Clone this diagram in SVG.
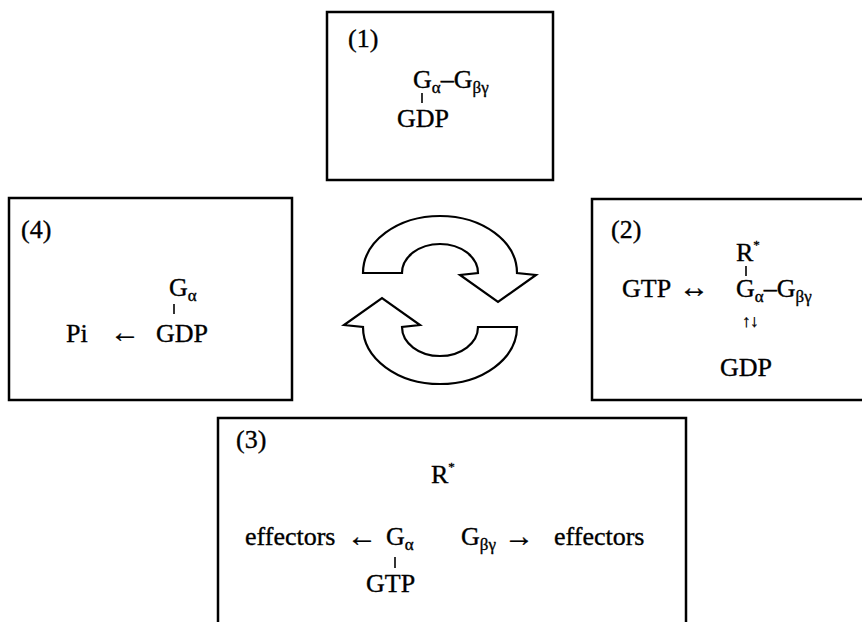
<svg xmlns="http://www.w3.org/2000/svg" width="862" height="622" viewBox="0 0 862 622">
<style>
.box{fill:none;stroke:#000;stroke-width:2.5}
text{font-family:"Liberation Serif","Times New Roman","DejaVu Serif",serif;font-size:26px;fill:#000;stroke:#000;stroke-width:0.35}
.sub{font-size:17px}
.sm{font-size:13px}
.ar{font-size:30px}
.ud{font-size:17px}
.tick{stroke:#000;stroke-width:1.6}
.cyc{fill:#fff;stroke:#000;stroke-width:2.2;stroke-linejoin:miter}
</style>
<rect width="862" height="622" fill="#fff"/>
<g id="box1" font-family="Liberation Serif, serif">
<rect class="box" x="327" y="12" width="226" height="168"/>
<text x="348" y="47">(1)</text>
<text x="413" y="88">G<tspan class="sub" dy="5">α</tspan><tspan dy="-5">–G</tspan><tspan class="sub" dy="5">βγ</tspan></text>
<line class="tick" x1="422" y1="93" x2="422" y2="103"/>
<text x="397" y="127">GDP</text>
</g>
<g id="box2" font-family="Liberation Serif, serif">
<rect class="box" x="592" y="199" width="272" height="201"/>
<text x="611" y="238">(2)</text>
<text x="736" y="261">R<tspan class="sm" dy="-12">*</tspan></text>
<line class="tick" x1="746" y1="266" x2="746" y2="276"/>
<text x="622" y="297">GTP</text>
<text x="679" y="297" class="ar">↔</text>
<text x="736" y="297">G<tspan class="sub" dy="5">α</tspan><tspan dy="-5">–G</tspan><tspan class="sub" dy="5">βγ</tspan></text>
<text x="742" y="327" class="ud">↑</text>
<text x="750" y="327" class="ud">↓</text>
<text x="720" y="376">GDP</text>
</g>
<g id="box4" font-family="Liberation Serif, serif">
<rect class="box" x="9" y="198" width="283" height="202"/>
<text x="21" y="238">(4)</text>
<text x="169" y="296">G<tspan class="sub" dy="5">α</tspan></text>
<line class="tick" x1="174" y1="304" x2="174" y2="314"/>
<text x="66" y="342">Pi</text>
<text x="110" y="342" class="ar">←</text>
<text x="156" y="342">GDP</text>
</g>
<g id="box3" font-family="Liberation Serif, serif">
<rect class="box" x="218" y="418" width="468" height="210"/>
<text x="236" y="448">(3)</text>
<text x="431" y="483">R<tspan class="sm" dy="-12">*</tspan></text>
<text x="245" y="545">effectors</text>
<text x="347" y="546" class="ar">←</text>
<text x="386" y="545">G<tspan class="sub" dy="5">α</tspan></text>
<line class="tick" x1="395" y1="557" x2="395" y2="568"/>
<text x="366" y="592">GTP</text>
<text x="461" y="545">G<tspan class="sub" dy="5">βγ</tspan></text>
<text x="504" y="546" class="ar">→</text>
<text x="554" y="545">effectors</text>
</g>
<g id="connectors">
<path id="cycTop" class="cyc" d="M363 273 A77 57 0 0 1 517 273 L536 275 L498 302 L460 275 L478 273 A38 29 0 0 0 402 273 Z"/>
<path id="cycBottom" class="cyc" d="M363 273 A77 57 0 0 1 517 273 L536 275 L498 302 L460 275 L478 273 A38 29 0 0 0 402 273 Z" transform="rotate(180 440 300)"/>
</g>
</svg>
